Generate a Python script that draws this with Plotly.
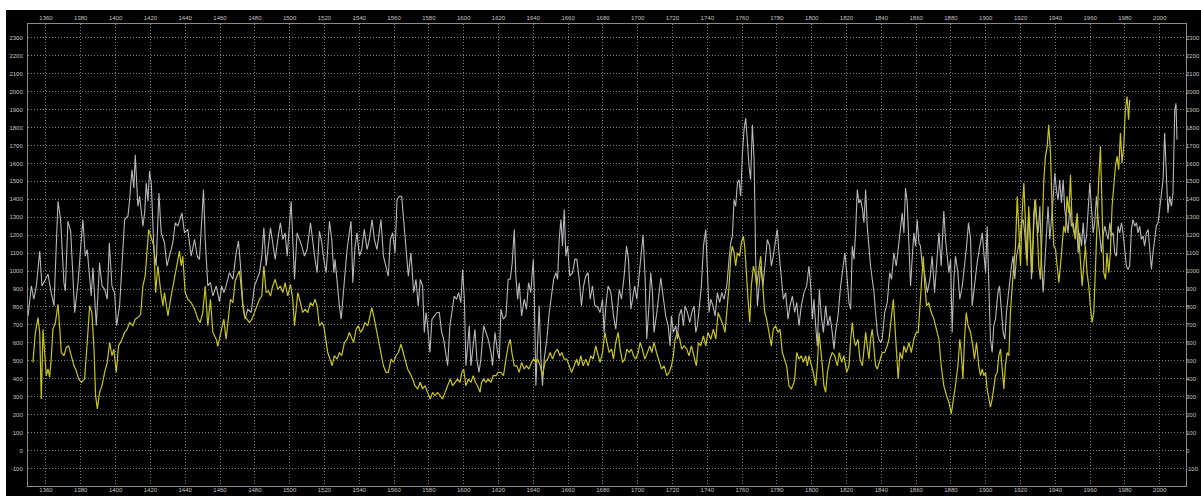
import plotly.graph_objects as go

# ---- grey series (year, value) ----
grey_years = [
    1349.7, 1351.6, 1353.0, 1354.5, 1356.4, 1357.7, 1359.2, 1361.2, 1363.0, 1364.6,
    1366.9, 1368.4, 1370.3, 1371.1, 1372.6, 1374.2, 1376.5, 1378.4, 1381.2, 1382.6,
    1383.7, 1386.0, 1387.0, 1388.9, 1390.8, 1392.2, 1393.7, 1395.2, 1396.4, 1397.9,
    1399.4, 1400.6, 1402.3, 1405.2, 1407.1, 1408.0, 1409.4, 1410.5, 1411.3, 1412.8,
    1413.8, 1415.7, 1416.7, 1417.6, 1418.6, 1419.5, 1420.5, 1422.0, 1423.3, 1424.9,
    1426.2, 1428.1, 1429.5, 1431.0, 1432.9, 1434.3, 1435.8, 1438.1, 1439.6, 1441.5,
    1443.4, 1445.4, 1446.9, 1448.2, 1449.6, 1450.5, 1451.5, 1453.0, 1454.5, 1455.9,
    1457.8, 1459.7, 1461.0, 1462.2, 1463.5, 1465.4, 1467.4, 1469.3, 1470.6, 1471.8,
    1473.1, 1474.4, 1476.0, 1477.9, 1479.8, 1481.3, 1482.7, 1484.0, 1485.2, 1486.5,
    1487.8, 1489.0, 1490.3, 1491.7, 1493.2, 1494.7, 1496.1, 1497.4, 1498.6, 1499.9,
    1500.9, 1501.8, 1502.8, 1504.3, 1505.6, 1507.0, 1508.5, 1510.0, 1512.0, 1513.3,
    1514.6, 1515.8, 1517.1, 1518.5, 1519.6, 1521.0, 1522.9, 1524.2, 1525.4, 1526.1,
    1527.3, 1528.6, 1529.6, 1530.5, 1531.9, 1533.0, 1534.3, 1535.3, 1536.3, 1537.6,
    1538.7, 1540.1, 1541.4, 1542.9, 1544.5, 1545.8, 1547.4, 1548.7, 1550.2, 1551.6,
    1552.5, 1553.9, 1555.4, 1556.7, 1557.9, 1559.2, 1560.6, 1561.7, 1563.1, 1564.4,
    1565.5, 1566.9, 1568.2, 1569.7, 1571.3, 1572.6, 1573.9, 1575.1, 1576.4, 1577.4,
    1578.4, 1579.3, 1580.6, 1581.8, 1583.1, 1584.7, 1586.0, 1587.4, 1588.5, 1589.8,
    1590.8, 1592.1, 1593.3, 1594.6, 1595.9, 1597.1, 1598.4, 1599.4, 1600.4, 1601.3,
    1602.3, 1603.2, 1604.2, 1605.5, 1606.5, 1607.6, 1608.8, 1609.9, 1611.5, 1612.8,
    1614.1, 1615.7, 1616.6, 1618.0, 1619.5, 1620.5, 1621.4, 1622.8, 1624.3, 1625.6,
    1626.8, 1627.9, 1629.1, 1630.0, 1631.0, 1631.9, 1633.3, 1634.8, 1636.1, 1637.3,
    1638.6, 1640.0, 1640.5, 1641.5, 1642.5, 1643.4, 1644.4, 1645.3, 1646.3, 1647.8,
    1649.2, 1650.5, 1651.7, 1653.0, 1654.0, 1654.9, 1655.9, 1656.8, 1657.8, 1658.7,
    1659.7, 1661.0, 1662.6, 1663.9, 1665.0, 1666.4, 1667.7, 1668.9, 1670.2, 1671.5,
    1672.7, 1674.0, 1675.4, 1676.9, 1678.4, 1679.8, 1680.7, 1681.7, 1683.0, 1684.6,
    1686.1, 1687.4, 1688.4, 1689.4, 1690.7, 1692.2, 1693.6, 1694.7, 1696.1, 1697.0,
    1698.3, 1699.5, 1700.8, 1701.8, 1703.1, 1704.3, 1705.2, 1706.6, 1707.5, 1708.5,
    1709.4, 1711.0, 1712.3, 1713.3, 1714.6, 1716.1, 1717.5, 1718.6, 1719.4, 1720.5,
    1721.9, 1722.8, 1723.8, 1725.1, 1726.3, 1727.2, 1728.6, 1729.9, 1731.1, 1732.4,
    1733.4, 1734.3, 1735.5, 1736.6, 1737.8, 1739.1, 1740.1, 1741.0, 1742.0, 1743.3,
    1744.5, 1745.8, 1747.1, 1748.3, 1749.6, 1751.2, 1752.5, 1753.5, 1754.4, 1755.4,
    1756.3, 1757.3, 1758.2, 1759.2, 1760.2, 1761.1, 1762.1, 1763.0, 1764.0, 1764.9,
    1765.9, 1766.9, 1767.8, 1768.8, 1769.7, 1770.7, 1772.0, 1773.2, 1774.5, 1775.8,
    1776.8, 1777.9, 1779.3, 1780.2, 1781.2, 1782.5, 1783.7, 1785.0, 1786.4, 1787.5,
    1788.9, 1790.2, 1791.4, 1792.7, 1794.0, 1795.6, 1797.1, 1798.4, 1799.4, 1800.4,
    1801.3, 1802.3, 1803.2, 1804.4, 1805.5, 1806.7, 1808.0, 1809.3, 1810.5, 1811.8,
    1812.8, 1813.7, 1815.1, 1816.6, 1818.2, 1819.1, 1820.4, 1821.4, 1822.4, 1823.3,
    1824.3, 1825.2, 1826.2, 1827.1, 1828.1, 1829.2, 1830.0, 1831.0, 1831.9, 1832.9,
    1833.8, 1834.8, 1835.8, 1836.7, 1837.7, 1838.6, 1839.6, 1840.5, 1841.9, 1843.4,
    1844.8, 1845.9, 1847.2, 1848.6, 1849.7, 1851.1, 1852.0, 1853.0, 1853.9, 1854.9,
    1855.9, 1856.8, 1857.8, 1858.7, 1859.7, 1860.6, 1861.6, 1862.5, 1863.5, 1864.8,
    1866.4, 1867.9, 1869.2, 1870.6, 1871.7, 1873.1, 1874.4, 1875.9, 1876.9, 1877.9,
    1878.8, 1879.8, 1880.7, 1881.7, 1882.6, 1884.0, 1885.1, 1886.5, 1887.8, 1889.0,
    1890.1, 1891.3, 1892.2, 1893.5, 1895.1, 1896.6, 1898.0, 1898.9, 1899.9, 1900.8,
    1901.8, 1902.7, 1903.7, 1904.6, 1905.6, 1907.0, 1907.9, 1908.9, 1910.0, 1911.0,
    1911.9, 1912.9, 1913.8, 1914.8, 1915.7, 1916.7, 1917.7, 1918.6, 1919.6, 1920.5,
    1921.5, 1922.4, 1923.4, 1924.4, 1925.3, 1926.3, 1927.2, 1928.2, 1929.1, 1930.1,
    1931.1, 1932.0, 1933.0, 1933.9, 1934.9, 1935.8, 1936.8, 1937.8, 1938.7, 1939.7,
    1940.6, 1941.6, 1942.5, 1943.5, 1944.5, 1945.4, 1946.4, 1947.3, 1948.3, 1949.2,
    1950.2, 1951.2, 1952.1, 1953.1, 1954.0, 1955.0, 1956.0, 1956.9, 1957.9, 1958.8,
    1959.8, 1960.7, 1961.7, 1962.6, 1963.6, 1964.6, 1965.5, 1966.5, 1967.4, 1968.4,
    1969.3, 1970.3, 1971.3, 1972.2, 1973.2, 1974.1, 1975.1, 1976.0, 1977.0, 1978.0,
    1978.9, 1979.9, 1980.8, 1981.8, 1982.7, 1983.7, 1984.6, 1985.6, 1986.6, 1987.5,
    1988.5, 1989.4, 1990.4, 1991.3, 1992.3, 1993.3, 1994.2, 1995.2, 1996.1, 1997.1,
    1998.0, 1999.0, 2000.0, 2000.9, 2001.9, 2002.8, 2003.8, 2004.7, 2005.7, 2006.7,
    2007.6, 2008.6, 2009.3, 2009.9,
]
grey_values = [
    750, 917, 843, 917, 1111, 917, 945, 982, 880, 806,
    1389, 1287, 935, 889, 1278, 1222, 768, 935, 1287, 1083,
    1120, 861, 1019, 695, 1046, 917, 898, 843, 1158, 917,
    880, 695, 806, 1287, 1306, 1389, 1565, 1463, 1648, 1361,
    1417, 1250, 1324, 1491, 1389, 1556, 1491, 1120, 1028, 1435,
    1213, 1158, 1028, 1083, 1158, 1269, 1250, 1324, 1213, 1232,
    1083, 1176, 1083, 1065, 1287, 1454, 1176, 917, 935, 861,
    917, 830, 917, 880, 917, 991, 954, 1102, 1167, 1028,
    824, 732, 787, 769, 917, 954, 991, 1083, 1241, 1028,
    1158, 1241, 1158, 1065, 1176, 1269, 1176, 1213, 1083, 1269,
    1389, 1176, 954, 1213, 1176, 1139, 1083, 1120, 1269, 1158,
    1065, 991, 1222, 1158, 1065, 991, 1278, 1176, 991, 1065,
    917, 806, 732, 843, 972, 1120, 1213, 1278, 935, 1139,
    1213, 1083, 1120, 1232, 1120, 1176, 1287, 1176, 1120, 1232,
    1287, 1083, 1028, 972, 1176, 1213, 1102, 1398, 1417, 1417,
    1287, 1120, 972, 1102, 880, 954, 806, 954, 917, 658,
    769, 695, 546, 732, 750, 769, 769, 658, 620, 546,
    472, 695, 769, 861, 843, 880, 824, 1009, 843, 472,
    583, 695, 472, 602, 676, 509, 435, 509, 695, 658,
    620, 546, 472, 658, 546, 509, 787, 732, 750, 954,
    954, 1046, 1232, 972, 843, 935, 750, 843, 787, 935,
    880, 1065, 917, 361, 602, 806, 509, 361, 509, 620,
    769, 880, 954, 991, 954, 1176, 1287, 1139, 1343, 1083,
    1139, 972, 991, 1065, 1065, 954, 806, 917, 972, 991,
    843, 917, 806, 800, 769, 843, 658, 806, 917, 880,
    750, 676, 806, 898, 843, 972, 1139, 1065, 787, 843,
    917, 843, 972, 1083, 1204, 954, 620, 824, 991, 880,
    658, 769, 898, 963, 861, 750, 695, 583, 750, 658,
    695, 620, 750, 787, 695, 806, 769, 713, 769, 806,
    658, 695, 806, 917, 1139, 1232, 991, 769, 843, 806,
    750, 880, 824, 880, 843, 917, 1065, 1158, 1194, 1398,
    1361, 1491, 1509, 1417, 1658, 1787, 1852, 1713, 1583, 1509,
    1815, 1621, 1065, 806, 917, 1028, 917, 1065, 1176, 1139,
    1028, 1083, 1176, 1232, 1102, 954, 843, 880, 732, 806,
    861, 769, 824, 695, 806, 880, 917, 1028, 917, 732,
    843, 695, 583, 898, 750, 658, 806, 695, 750, 658,
    565, 658, 750, 917, 1028, 1102, 954, 824, 787, 1139,
    1065, 1213, 1454, 1380, 1398, 1343, 1269, 1454, 1250, 1102,
    1028, 954, 880, 769, 658, 620, 602, 620, 769, 824,
    991, 954, 1102, 1028, 1120, 1269, 1324, 1213, 1463, 1380,
    1176, 917, 1083, 1213, 1139, 1287, 1158, 1139, 1028, 991,
    880, 954, 1083, 880, 1028, 1213, 1028, 1334, 1176, 1083,
    991, 1065, 658, 954, 1083, 991, 843, 917, 1028, 1139,
    1269, 1176, 806, 917, 1050, 1139, 1213, 1102, 991, 1250,
    917, 620, 546, 695, 732, 880, 917, 769, 657, 620,
    769, 861, 954, 1028, 1083, 954, 1083, 1139, 1176, 1269,
    1287, 1213, 1065, 1287, 1232, 954, 1195, 1398, 1287, 1213,
    1361, 1065, 880, 1028, 1195, 1361, 1176, 1287, 1398, 1546,
    1454, 1398, 1509, 1380, 1509, 1343, 1287, 1213, 1361, 1250,
    1269, 1195, 1287, 1102, 1213, 1139, 1269, 1139, 1195, 1324,
    1491, 1361, 1213, 1269, 1417, 1287, 1213, 1102, 1195, 1250,
    1213, 1176, 1269, 1195, 1213, 1102, 1083, 1250, 1213, 1269,
    1213, 1102, 1028, 1009, 1028, 1232, 1287, 1250, 1269, 1213,
    1250, 1176, 1195, 1139, 1213, 1232, 1102, 1009, 1102, 1195,
    1250, 1269, 1361, 1435, 1509, 1769, 1472, 1324, 1417, 1361,
    1435, 1898, 1935, 1732,
]

# ---- yellow series (year, value) ----
yellow_years = [
    1352.5, 1353.9, 1355.4, 1356.4, 1357.3, 1358.3, 1359.2, 1360.2, 1361.2, 1362.1,
    1363.0, 1364.0, 1365.4, 1366.9, 1367.8, 1368.8, 1370.3, 1371.7, 1373.0, 1374.5,
    1376.1, 1377.4, 1378.8, 1380.3, 1382.2, 1383.7, 1385.1, 1386.4, 1387.6, 1388.5,
    1389.5, 1390.8, 1392.2, 1393.7, 1395.2, 1396.6, 1397.9, 1399.0, 1400.4, 1401.7,
    1403.3, 1405.2, 1406.7, 1408.0, 1410.0, 1411.3, 1412.8, 1414.4, 1415.7, 1417.0,
    1418.2, 1419.0, 1420.5, 1422.0, 1423.0, 1424.3, 1425.8, 1427.2, 1428.1, 1430.1,
    1431.6, 1432.9, 1434.3, 1435.4, 1436.7, 1437.7, 1438.6, 1440.0, 1441.5, 1443.4,
    1445.4, 1447.3, 1448.6, 1450.1, 1451.5, 1453.0, 1454.5, 1455.9, 1457.8, 1458.7,
    1460.7, 1462.2, 1463.5, 1464.9, 1466.0, 1467.4, 1468.7, 1469.8, 1471.2, 1472.1,
    1473.1, 1474.1, 1475.6, 1476.9, 1478.3, 1479.8, 1481.3, 1482.7, 1484.0, 1485.2,
    1486.5, 1487.8, 1489.0, 1490.3, 1491.7, 1493.2, 1494.7, 1496.1, 1497.4, 1498.9,
    1500.5, 1501.8, 1502.8, 1503.7, 1504.7, 1506.2, 1507.5, 1508.9, 1510.4, 1512.0,
    1513.3, 1514.6, 1515.8, 1517.1, 1518.5, 1519.6, 1521.0, 1521.9, 1523.2, 1524.4,
    1525.7, 1527.3, 1528.6, 1529.9, 1531.5, 1533.0, 1534.3, 1535.7, 1536.8, 1538.2,
    1539.5, 1540.7, 1542.0, 1543.3, 1544.9, 1546.2, 1547.2, 1548.3, 1549.7, 1551.0,
    1552.5, 1553.9, 1555.4, 1556.7, 1558.3, 1559.8, 1561.1, 1562.5, 1564.0, 1565.3,
    1566.5, 1567.8, 1569.4, 1570.7, 1572.0, 1573.6, 1575.1, 1576.4, 1577.8, 1579.3,
    1580.8, 1582.2, 1583.5, 1585.1, 1586.6, 1587.9, 1589.3, 1590.8, 1592.3, 1593.7,
    1595.0, 1596.5, 1597.9, 1599.0, 1600.0, 1601.3, 1602.7, 1604.2, 1605.5, 1606.7,
    1608.0, 1609.4, 1610.3, 1611.5, 1612.8, 1614.1, 1615.7, 1617.0, 1618.5, 1619.9,
    1621.4, 1622.9, 1624.3, 1625.6, 1626.8, 1627.7, 1629.1, 1630.6, 1631.9, 1633.3,
    1634.8, 1636.1, 1637.5, 1639.0, 1640.2, 1641.5, 1642.5, 1644.0, 1645.3, 1646.7,
    1648.2, 1649.7, 1651.1, 1652.4, 1653.9, 1655.3, 1656.4, 1657.8, 1659.3, 1660.6,
    1662.0, 1663.5, 1664.9, 1666.0, 1667.3, 1668.7, 1670.2, 1671.5, 1673.1, 1674.4,
    1675.9, 1677.3, 1678.4, 1679.8, 1681.1, 1682.3, 1683.6, 1685.0, 1686.1, 1687.4,
    1688.8, 1689.9, 1691.3, 1692.6, 1693.8, 1695.1, 1696.4, 1697.6, 1698.9, 1700.3,
    1701.4, 1702.7, 1704.1, 1705.6, 1707.0, 1708.1, 1709.4, 1710.8, 1712.3, 1713.7,
    1715.2, 1716.7, 1718.1, 1719.4, 1720.5, 1721.5, 1722.8, 1724.2, 1725.3, 1726.7,
    1728.2, 1729.5, 1730.9, 1732.4, 1733.7, 1734.9, 1736.2, 1737.8, 1739.1, 1740.4,
    1742.0, 1743.5, 1744.9, 1746.2, 1747.7, 1749.2, 1750.2, 1751.5, 1752.5, 1753.5,
    1754.4, 1755.4, 1756.3, 1757.3, 1758.6, 1759.6, 1760.7, 1761.5, 1762.5, 1763.4,
    1764.4, 1765.3, 1766.5, 1767.4, 1768.4, 1769.7, 1770.7, 1771.6, 1773.0, 1774.1,
    1775.5, 1776.8, 1777.9, 1779.3, 1780.6, 1781.8, 1783.1, 1784.5, 1785.6, 1786.9,
    1788.3, 1789.5, 1790.2, 1791.4, 1792.7, 1794.0, 1795.2, 1796.5, 1797.5, 1798.4,
    1799.8, 1800.9, 1802.3, 1803.2, 1804.2, 1805.1, 1806.1, 1807.0, 1808.0, 1809.0,
    1810.5, 1811.8, 1813.2, 1814.7, 1815.9, 1817.2, 1818.5, 1820.1, 1821.4, 1822.4,
    1823.3, 1824.3, 1825.2, 1826.6, 1827.7, 1829.1, 1830.0, 1831.0, 1831.9, 1832.9,
    1833.8, 1834.8, 1835.8, 1836.7, 1837.7, 1839.0, 1840.5, 1841.9, 1843.4, 1844.4,
    1845.7, 1846.9, 1847.8, 1848.8, 1849.7, 1850.7, 1852.0, 1853.0, 1854.3, 1855.9,
    1857.2, 1858.7, 1860.1, 1861.2, 1862.2, 1863.1, 1864.1, 1865.0, 1866.0, 1867.3,
    1868.7, 1870.2, 1871.5, 1873.1, 1874.4, 1875.9, 1877.5, 1878.8, 1880.2, 1881.3,
    1882.6, 1884.0, 1885.1, 1885.9, 1886.9, 1887.8, 1888.8, 1889.9, 1891.3, 1892.6,
    1893.5, 1894.7, 1896.0, 1897.0, 1898.0, 1898.9, 1899.9, 1900.8, 1901.8, 1902.7,
    1903.7, 1904.6, 1905.6, 1906.6, 1907.5, 1908.5, 1909.4, 1910.4, 1911.3, 1912.3,
    1913.3, 1914.2, 1915.2, 1916.1, 1917.1, 1918.1, 1919.0, 1920.0, 1920.9, 1921.9,
    1922.8, 1923.8, 1924.7, 1925.7, 1926.7, 1927.6, 1928.6, 1929.5, 1930.5, 1931.4,
    1932.4, 1933.4, 1934.3, 1935.3, 1936.2, 1937.2, 1938.1, 1939.1, 1940.1, 1941.0,
    1942.0, 1942.9, 1943.9, 1944.8, 1945.8, 1946.7, 1947.7, 1948.7, 1949.6, 1950.6,
    1951.5, 1952.5, 1953.5, 1954.4, 1955.4, 1956.3, 1957.3, 1958.2, 1959.2, 1960.1,
    1961.1, 1962.1, 1963.0, 1964.0, 1964.9, 1965.9, 1966.8, 1967.8, 1968.8, 1969.7,
    1970.7, 1971.6, 1972.6, 1973.5, 1974.5, 1975.5, 1976.4, 1977.4, 1978.3, 1979.3,
    1980.2, 1981.2, 1982.1, 1982.7,
]
yellow_values = [
    491, 658, 741, 658, 287, 676, 546, 417, 454, 408,
    509, 676, 713, 815, 695, 546, 528, 574, 583, 528,
    472, 445, 398, 380, 398, 602, 806, 769, 565, 306,
    232, 324, 361, 435, 491, 602, 528, 565, 435, 583,
    611, 658, 676, 713, 695, 732, 741, 759, 917, 972,
    1139, 1232, 1185, 1139, 880, 1028, 898, 806, 880, 750,
    843, 917, 972, 1046, 1111, 1028, 1083, 880, 843, 824,
    787, 732, 713, 769, 917, 695, 843, 658, 620, 580,
    658, 732, 620, 750, 843, 824, 945, 972, 1000, 917,
    806, 750, 732, 713, 732, 769, 806, 843, 861, 1028,
    880, 889, 861, 917, 954, 898, 917, 880, 935, 861,
    926, 843, 695, 787, 880, 824, 769, 787, 769, 824,
    806, 843, 806, 695, 713, 695, 602, 546, 509, 472,
    528, 509, 546, 528, 602, 620, 658, 620, 602, 676,
    695, 658, 676, 713, 695, 750, 796, 750, 676, 620,
    546, 472, 435, 435, 509, 491, 528, 546, 592, 546,
    491, 454, 425, 398, 361, 343, 380, 343, 361, 324,
    287, 324, 306, 324, 306, 287, 324, 361, 398, 361,
    380, 398, 380, 435, 454, 361, 398, 380, 417, 380,
    361, 324, 380, 398, 380, 398, 380, 417, 417, 435,
    435, 417, 509, 583, 620, 546, 472, 472, 435, 491,
    454, 472, 454, 491, 509, 491, 509, 472, 417, 491,
    509, 546, 509, 546, 565, 528, 546, 509, 509, 472,
    435, 472, 509, 472, 528, 472, 509, 472, 528, 509,
    583, 528, 491, 546, 658, 602, 546, 565, 509, 602,
    658, 565, 491, 509, 565, 546, 565, 528, 509, 546,
    602, 565, 509, 546, 583, 546, 602, 546, 491, 454,
    472, 417, 435, 472, 528, 620, 658, 620, 565, 583,
    565, 528, 583, 528, 472, 602, 583, 639, 583, 658,
    620, 676, 620, 769, 732, 695, 658, 806, 917, 1083,
    1139, 1102, 1028, 1102, 1083, 1158, 1194, 1139, 954, 843,
    713, 917, 1028, 991, 917, 1028, 1083, 954, 769, 732,
    658, 583, 676, 695, 658, 676, 546, 509, 472, 361,
    343, 370, 398, 546, 509, 528, 491, 528, 472, 528,
    472, 435, 361, 472, 658, 583, 472, 361, 324, 435,
    509, 546, 528, 472, 546, 491, 528, 435, 472, 620,
    713, 620, 583, 620, 509, 472, 546, 658, 583, 509,
    620, 676, 565, 472, 454, 491, 546, 546, 583, 620,
    732, 843, 695, 509, 398, 546, 509, 583, 546, 602,
    546, 620, 658, 658, 806, 991, 1083, 917, 806, 824,
    769, 732, 676, 620, 472, 361, 306, 269, 204, 269,
    361, 472, 620, 546, 398, 620, 769, 695, 658, 583,
    509, 602, 472, 417, 454, 417, 435, 343, 287, 241,
    287, 361, 417, 435, 528, 565, 435, 343, 472, 546,
    528, 769, 917, 1028, 1139, 1417, 1195, 1028, 1324, 1491,
    1269, 1028, 1361, 1195, 991, 1324, 1398, 1250, 1028, 954,
    1232, 1509, 1639, 1695, 1815, 1658, 1361, 1139, 1120, 1028,
    935, 1028, 1139, 1250, 1213, 1417, 1324, 1537, 1269, 1213,
    1176, 1324, 1176, 1028, 917, 1028, 1139, 991, 917, 806,
    713, 769, 1028, 1269, 1509, 1695, 1361, 991, 954, 1102,
    991, 1102, 1361, 1454, 1583, 1639, 1565, 1769, 1602, 1695,
    1898, 1972, 1843, 1954,
]

# ---- axis ticks ----
year_ticks = list(range(1360, 2001, 20))
value_ticks = list(range(-100, 2301, 100))

X_RANGE = [1349.67, 2015.07]
Y_RANGE = [-198, 2377]

GRID = "#7a7a7a"
FRAME = "#8a8a8a"
TICK_FONT = dict(family="Liberation Sans, Arial, sans-serif", size=6, color="#c0c0c0")

fig = go.Figure()

fig.add_trace(go.Scatter(
    x=grey_years, y=grey_values, mode="lines",
    line=dict(color="#b6b6bc", width=1.1),
    xaxis="x", yaxis="y", showlegend=False, hoverinfo="skip",
))
fig.add_trace(go.Scatter(
    x=yellow_years, y=yellow_values, mode="lines",
    line=dict(color="#c8c41e", width=1.2),
    xaxis="x2", yaxis="y2", showlegend=False, hoverinfo="skip",
))

common_x = dict(range=X_RANGE, tickmode="array", tickvals=year_ticks,
                ticktext=[str(v) for v in year_ticks], tickfont=TICK_FONT,
                ticks="", zeroline=False, automargin=False)
common_y = dict(range=Y_RANGE, tickmode="array", tickvals=value_ticks,
                ticktext=[str(v) for v in value_ticks], tickfont=TICK_FONT,
                ticks="", zeroline=False, automargin=False)

fig.update_layout(
    width=1201, height=496, autosize=False,
    margin=dict(l=28, r=15, t=24, b=10, pad=0, autoexpand=False),
    paper_bgcolor="#000000", plot_bgcolor="#000000",
    showlegend=False,
    xaxis=dict(**common_x, side="bottom", anchor="y",
               showgrid=True, gridcolor=GRID, griddash="1px,2px", gridwidth=1,
               showline=True, linecolor=FRAME, linewidth=1, mirror=True,
               ticklabelstandoff=-2),
    yaxis=dict(**common_y, side="left", anchor="x",
               showgrid=True, gridcolor=GRID, griddash="1px,2px", gridwidth=1,
               showline=True, linecolor=FRAME, linewidth=1, mirror=True,
               ticklabelstandoff=3),
    xaxis2=dict(**common_x, side="top", overlaying="x", anchor="y2",
                showgrid=False, showline=False, ticklabelstandoff=2),
    yaxis2=dict(**common_y, side="right", overlaying="y", anchor="x2",
                showgrid=False, showline=False, ticklabelstandoff=-1),
    shapes=[
        # white strip along the top edge of the page
        dict(type="rect", xref="paper", yref="paper", layer="below",
             x0=-0.05, x1=1.05, y0=(486 - 10) / 462, y1=1.1,
             fillcolor="#ffffff", line=dict(width=0)),
        # white strip along the left edge of the page
        dict(type="rect", xref="paper", yref="paper", layer="below",
             x0=-0.05, x1=(6 - 28) / 1158, y0=-0.1, y1=1.1,
             fillcolor="#ffffff", line=dict(width=0)),
    ],
)

fig.write_html("out.html")
